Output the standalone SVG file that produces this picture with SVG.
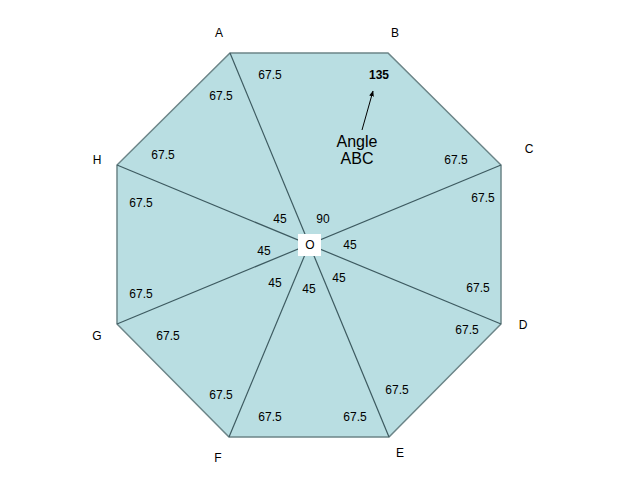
<svg xmlns="http://www.w3.org/2000/svg" width="640" height="480" viewBox="0 0 640 480">
<defs>
<style>
text{font-family:"Liberation Sans",Arial,sans-serif;font-size:12px;fill:#000;text-anchor:middle}
.big{font-size:16px}
.b{font-weight:bold}
.edge{stroke:#3d5a60;stroke-width:1.2;fill:none}
</style>
<marker id="ah" viewBox="0 0 10 10" refX="9" refY="5" markerWidth="6" markerHeight="6" orient="auto"><path d="M0,1 L10,5 L0,9 z" fill="#000"/></marker>
</defs>
<rect width="640" height="480" fill="#fff"/>
<g id="octagon">
<polygon points="230,53 388,53 501,165 501,324 389,437 229,437 117,324 117,165" fill="#b9dee2" stroke="#6c8588" stroke-width="1.5"/>
</g>
<g id="connectors">
<line class="edge" x1="230" y1="53" x2="389" y2="437"/>
<line class="edge" x1="229" y1="437" x2="309" y2="245"/>
<line class="edge" x1="501" y1="165" x2="117" y2="324"/>
<line class="edge" x1="117" y1="165" x2="501" y2="324"/>
<line x1="362" y1="130" x2="373" y2="91" stroke="#000" stroke-width="1" marker-end="url(#ah)"/>
</g>
<g id="O">
<rect x="298" y="234" width="23" height="22" fill="#fff"/>
<text x="310" y="249">O</text>
</g>
<g id="vertex-labels">
<text x="219" y="37">A</text>
<text x="395" y="37">B</text>
<text x="529" y="153">C</text>
<text x="523" y="329">D</text>
<text x="400" y="457">E</text>
<text x="218" y="462">F</text>
<text x="97" y="340">G</text>
<text x="97" y="164">H</text>
</g>
<g id="angle-labels">
<text x="270" y="79">67.5</text>
<text x="221" y="100">67.5</text>
<text x="163" y="159">67.5</text>
<text x="141" y="207">67.5</text>
<text x="141" y="298">67.5</text>
<text x="168" y="340">67.5</text>
<text x="221" y="399">67.5</text>
<text x="270" y="421">67.5</text>
<text x="355" y="421">67.5</text>
<text x="397" y="394">67.5</text>
<text x="467" y="334">67.5</text>
<text x="478" y="292">67.5</text>
<text x="483" y="202">67.5</text>
<text x="456" y="164">67.5</text>
<text class="b" x="379" y="79">135</text>
<text x="323" y="223">90</text>
<text x="280" y="223">45</text>
<text x="264" y="255">45</text>
<text x="275" y="287">45</text>
<text x="309" y="293">45</text>
<text x="339" y="282">45</text>
<text x="350" y="249">45</text>
</g>
<g id="angle-note">
<text class="big" x="357" y="147">Angle</text>
<text class="big" x="357" y="164">ABC</text>
</g>
</svg>
